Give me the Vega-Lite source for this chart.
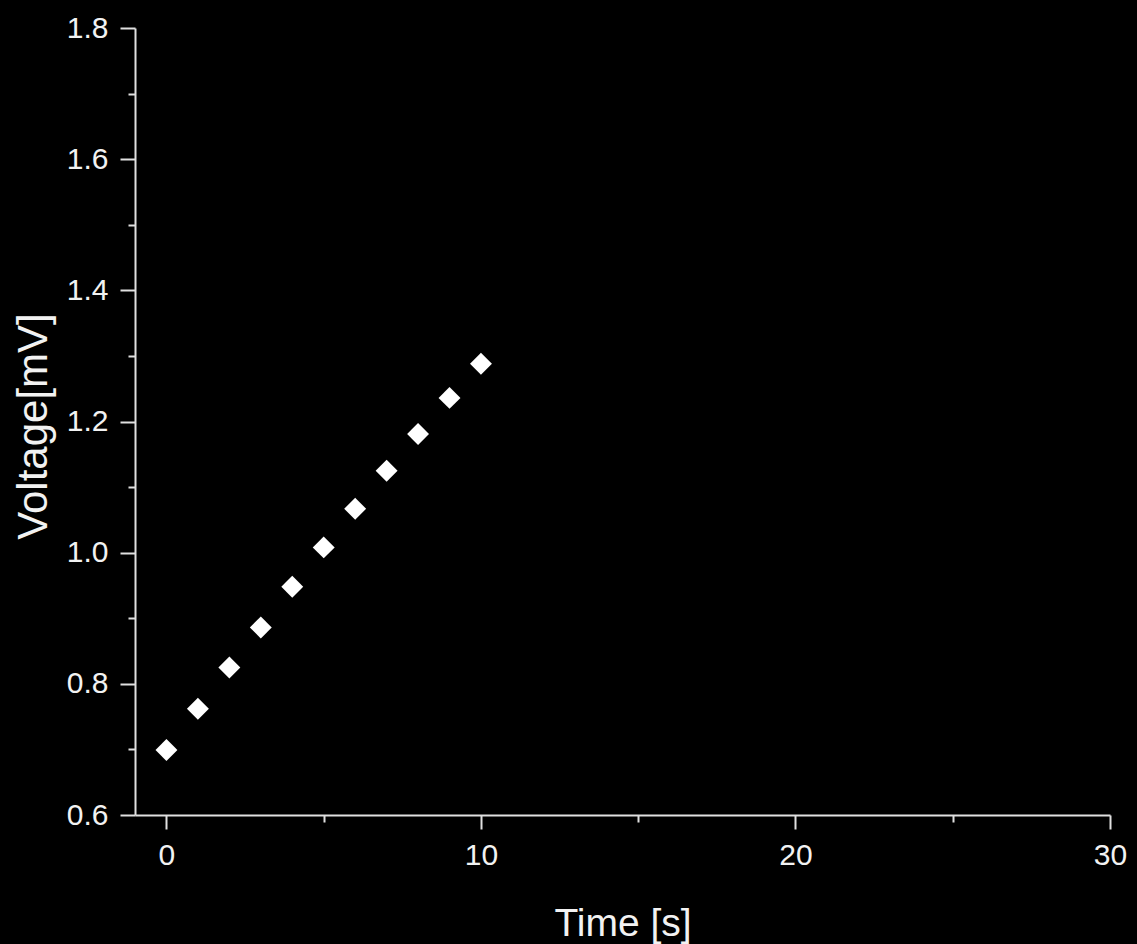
{
  "$schema": "https://vega.github.io/schema/vega-lite/v6.json",
  "width": 975,
  "height": 787,
  "autosize": {"type": "none"},
  "padding": {"left": 135, "top": 28, "right": 27, "bottom": 129},
  "background": "#000000",
  "config": {
    "view": {"stroke": null},
    "font": "Liberation Sans",
    "axis": {
      "domainColor": "#e0e0e0",
      "domainWidth": 2,
      "tickColor": "#e0e0e0",
      "tickWidth": 2,
      "labelColor": "#f2f2f2",
      "titleColor": "#f2f2f2",
      "labelFont": "Liberation Sans",
      "titleFont": "Liberation Sans",
      "labelFontSize": 30,
      "titleFontSize": 39,
      "titleFontWeight": "normal",
      "grid": false
    }
  },
  "data": {
    "values": [
      {"time": 0, "voltage": 0.699},
      {"time": 1, "voltage": 0.762},
      {"time": 2, "voltage": 0.825},
      {"time": 3, "voltage": 0.886},
      {"time": 4, "voltage": 0.948},
      {"time": 5, "voltage": 1.008},
      {"time": 6, "voltage": 1.067},
      {"time": 7, "voltage": 1.125},
      {"time": 8, "voltage": 1.181},
      {"time": 9, "voltage": 1.236},
      {"time": 10, "voltage": 1.288}
    ]
  },
  "mark": {"type": "point", "shape": "diamond", "filled": true, "color": "#ffffff", "opacity": 1, "size": 480},
  "encoding": {
    "x": {
      "field": "time",
      "type": "quantitative",
      "scale": {"domain": [-1, 30], "nice": false, "zero": false},
      "axis": {
        "title": "Time [s]",
        "values": [0, 5, 10, 15, 20, 25, 30],
        "labelExpr": "datum.value % 10 === 0 ? datum.label : ''",
        "tickSize": {"condition": {"test": "datum.value % 10 === 0", "value": 14}, "value": 7},
        "labelPadding": 11,
        "labelFlush": false,
        "labelOverlap": false,
        "titleY": 120,
        "titleBaseline": "alphabetic"
      }
    },
    "y": {
      "field": "voltage",
      "type": "quantitative",
      "scale": {"domain": [0.6, 1.8], "nice": false, "zero": false},
      "axis": {
        "title": "Voltage[mV]",
        "titleFontSize": 42,
        "values": [0.6, 0.7, 0.8, 0.9, 1.0, 1.1, 1.2, 1.3, 1.4, 1.5, 1.6, 1.7, 1.8],
        "format": ".1f",
        "labelExpr": "round(datum.value * 10) % 2 === 0 ? datum.label : ''",
        "tickSize": {"condition": {"test": "round(datum.value * 10) % 2 === 0", "value": 15}, "value": 7},
        "labelPadding": 12,
        "labelFlush": false,
        "labelOverlap": false,
        "titleX": -102,
        "titleY": 398,
        "titleAngle": -90,
        "titleAlign": "center",
        "titleBaseline": "middle"
      }
    }
  }
}
